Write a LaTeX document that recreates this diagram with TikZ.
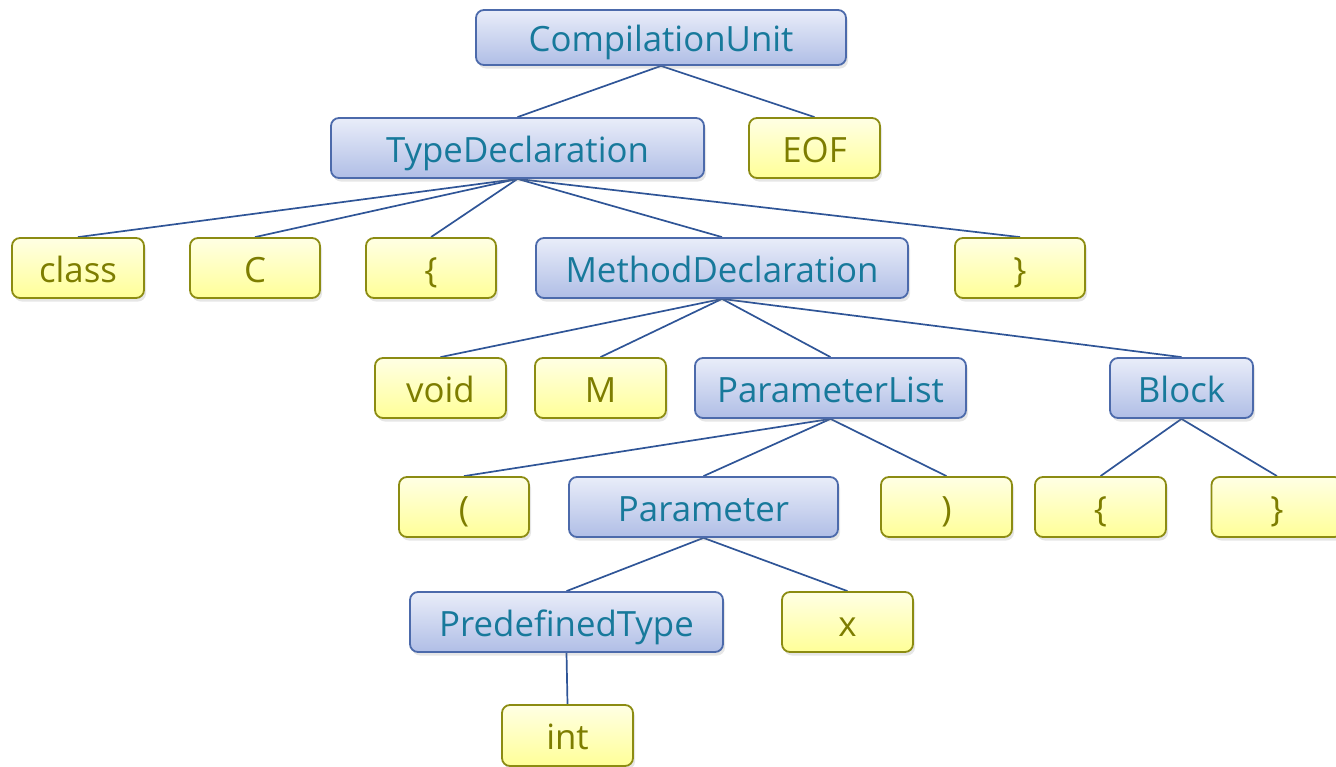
\documentclass[tikz,border=0pt]{standalone}
\usepackage{fontspec}
\setmainfont{Open Sans}
\usetikzlibrary{shadows,backgrounds}
\definecolor{bluefillT}{HTML}{E9EDF9}
\definecolor{bluefillB}{HTML}{B0BEE6}
\definecolor{blueline}{HTML}{4C6AAB}
\definecolor{bluetext}{HTML}{17799B}
\definecolor{yelfillT}{HTML}{FFFFE4}
\definecolor{yelfillB}{HTML}{FFFF98}
\definecolor{yelline}{HTML}{8C8C12}
\definecolor{yeltext}{HTML}{7D7D00}
\definecolor{edgecol}{HTML}{2F5597}
\tikzset{
  treebox/.style={rectangle, rounded corners=8pt, line width=1.8pt, minimum height=60pt,
    inner sep=0pt, text height=28pt, text depth=0pt, font=\fontsize{34.8}{38}\selectfont,
    drop shadow={shadow xshift=2pt, shadow yshift=-3.5pt, opacity=0.2}},
  nonterm/.style={treebox, draw=blueline, top color=bluefillT, bottom color=bluefillB, text=bluetext},
  term/.style={treebox, draw=yelline, top color=yelfillT, bottom color=yelfillB, text=yeltext},
  edge/.style={draw=edgecol, line width=1.7pt}
}
\begin{document}
\begin{tikzpicture}[x=1pt,y=-1pt]
\useasboundingbox (0,0) rectangle (1336,766);
\node[nonterm, minimum width=370pt, minimum height=55pt] (cu) at (661,37.5) {CompilationUnit};
\node[nonterm, minimum width=373pt] (td) at (517.5,148) {TypeDeclaration};
\node[term, minimum width=131pt] (eof) at (814.5,148) {EOF};
\node[term, minimum width=132pt] (class) at (78,268) {class};
\node[term, minimum width=130pt] (c) at (255,268) {C};
\node[term, minimum width=130pt] (lb1) at (431,268) {\{};
\node[nonterm, minimum width=372pt] (md) at (722,268) {MethodDeclaration};
\node[term, minimum width=130pt] (rb1) at (1020,268) {\}};
\node[term, minimum width=131pt] (void) at (440.5,388) {void};
\node[term, minimum width=131pt] (m) at (600.5,388) {M};
\node[nonterm, minimum width=271pt] (pl) at (830.5,388) {ParameterList};
\node[nonterm, minimum width=143pt] (block) at (1181.5,388) {Block};
\node[term, minimum width=130pt] (lp) at (464,507) {(};
\node[nonterm, minimum width=269pt] (param) at (703.5,507) {Parameter};
\node[term, minimum width=131pt] (rp) at (946.5,507) {)};
\node[term, minimum width=131pt] (lb2) at (1100.5,507) {\{};
\node[term, minimum width=131pt] (rb2) at (1277,507) {\}};
\node[nonterm, minimum width=313pt] (pt) at (566.5,622) {PredefinedType};
\node[term, minimum width=131pt] (x) at (847.5,622) {x};
\node[term, minimum width=131pt, minimum height=61pt] (int) at (567.5,735.5) {int};
\begin{scope}[on background layer]
\foreach \p/\c in {cu/td, cu/eof, td/class, td/c, td/lb1, td/md, td/rb1,
  md/void, md/m, md/pl, md/block, pl/lp, pl/param, pl/rp, block/lb2, block/rb2,
  param/pt, param/x, pt/int}
  \draw[edge] (\p.south) -- (\c.north);
\end{scope}
\end{tikzpicture}
\end{document}
